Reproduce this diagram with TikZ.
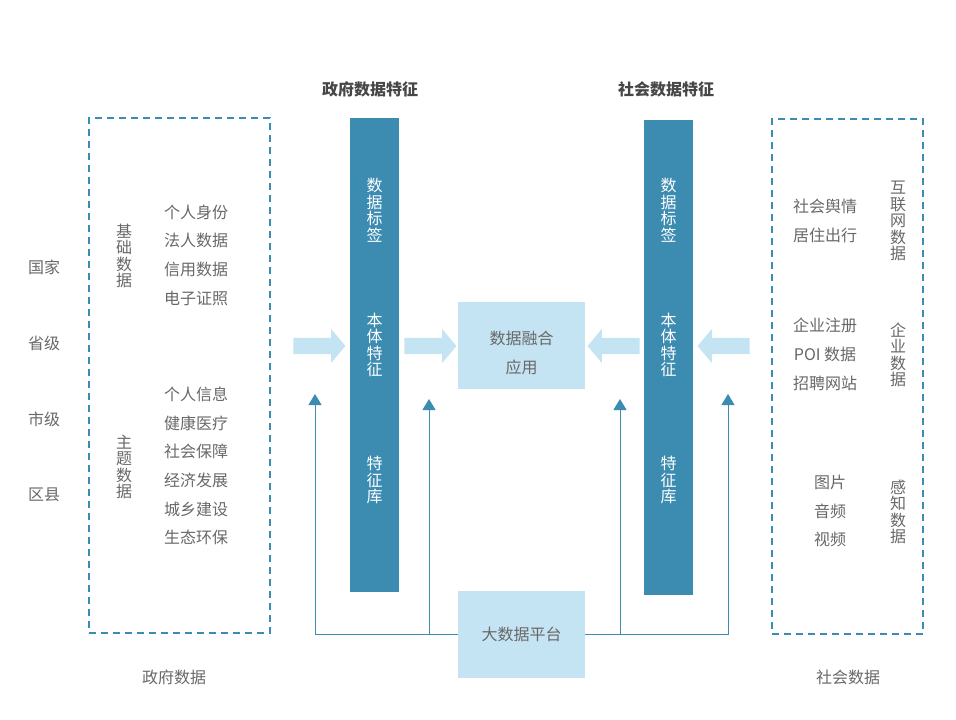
\documentclass[tikz,border=0pt]{standalone}
\usepackage{fontspec}
\setmainfont{Noto Sans CJK SC}
\usepackage{xcolor}
\usetikzlibrary{arrows.meta}
\usetikzlibrary{shapes.arrows}
\definecolor{barblue}{HTML}{3C8BB1}
\definecolor{paleblue}{HTML}{C5E4F3}
\definecolor{txtgray}{HTML}{686868}

\begin{document}
\begin{tikzpicture}[x=1pt,y=-1pt,
  txt/.style={text=txtgray,font=\fontsize{16}{28.7}\selectfont,align=center,inner sep=0},
  vtxt/.style={text=txtgray,font=\fontsize{16}{16.5}\selectfont,align=center,inner sep=0},
  title/.style={text=black!72,font=\fontsize{16}{18}\selectfont\bfseries,inner sep=0},
  dashbox/.style={draw=barblue,dash pattern=on 7pt off 5pt,line width=1.1pt,inner sep=0},
  bar/.style={fill=barblue,inner sep=0,minimum width=49},
  pale/.style={fill=paleblue,inner sep=0,minimum width=127,minimum height=87,
    text=txtgray,font=\fontsize{16}{29}\selectfont,align=center},
  fat/.style={single arrow,fill=paleblue,minimum height=52,minimum width=34,inner sep=8pt,
    single arrow head extend=9pt,single arrow tip angle=100},
  link/.style={draw=barblue,line width=1pt},
  tip/.style={-{Triangle[width=13pt,length=11pt]}}
]
\useasboundingbox (0,0) rectangle (956,720);

% government side
\node[dashbox,minimum width=181,minimum height=515] (govbox) at (179.5,375.5) {};
\node[txt] (gov1) at (44,267) {国家};
\node[txt] (gov2) at (44,343) {省级};
\node[txt] (gov3) at (44,419) {市级};
\node[txt] (gov4) at (44,495) {区县};
\node[vtxt] (base) at (124,256) {基\\础\\数\\据};
\node[txt] (baselist) at (196,255) {个人身份\\法人数据\\信用数据\\电子证照};
\node[vtxt] (topic) at (124,467) {主\\题\\数\\据};
\node[txt] (topiclist) at (196,466) {个人信息\\健康医疗\\社会保障\\经济发展\\城乡建设\\生态环保};
\node[txt] (govname) at (174,677) {政府数据};

% society side
\node[dashbox,minimum width=151,minimum height=515] (socbox) at (847.5,376.5) {};
\node[txt] (netlist) at (825,221) {社会舆情\\居住出行};
\node[vtxt] (net) at (898,221) {互\\联\\网\\数\\据};
\node[txt] (entlist) at (825,354.5) {企业注册\\POI 数据\\招聘网站};
\node[vtxt] (ent) at (898,355) {企\\业\\数\\据};
\node[txt] (senslist) at (830,511) {图片\\音频\\视频};
\node[vtxt] (sens) at (898,512) {感\\知\\数\\据};
\node[txt] (socname) at (848,677) {社会数据};

% feature bars
\node[title] (govtitle) at (370,89) {政府数据特征};
\node[bar,minimum height=474] (govbar) at (374.5,355) {};
\node[vtxt,text=white] (gtag) at (374.5,210) {数\\据\\标\\签};
\node[vtxt,text=white] (gont) at (374.5,345) {本\\体\\特\\征};
\node[vtxt,text=white] (glib) at (374.5,480) {特\\征\\库};

\node[title] (soctitle) at (666,89) {社会数据特征};
\node[bar,minimum height=475] (socbar) at (668.5,357.5) {};
\node[vtxt,text=white] (stag) at (668.5,210) {数\\据\\标\\签};
\node[vtxt,text=white] (sont) at (668.5,345) {本\\体\\特\\征};
\node[vtxt,text=white] (slib) at (668.5,480) {特\\征\\库};

% centre
\node[pale] (fuse) at (521.5,345.5) {};
\node[txt,font=\fontsize{16}{29}\selectfont] (fusetxt) at (521.5,352.5) {数据融合\\应用};
\node[pale] (plat) at (521.5,634.5) {大数据平台};

\node[fat] (arrA) at (316,346) {};
\node[fat] (arrB) at (427,346) {};
\node[fat,shape border rotate=180] (arrC) at (617,346) {};
\node[fat,shape border rotate=180] (arrD) at (727,346) {};

\coordinate (tipA) at (315,394);
\coordinate (tipB) at (429,399);
\coordinate (tipC) at (620,399);
\coordinate (tipD) at (728,394);
\draw[link,tip] (plat.west) -| (tipA);
\draw[link,tip] (plat.west -| tipB) -- (tipB);
\draw[link,tip] (plat.east) -| (tipD);
\draw[link,tip] (plat.east -| tipC) -- (tipC);
\end{tikzpicture}
\end{document}
